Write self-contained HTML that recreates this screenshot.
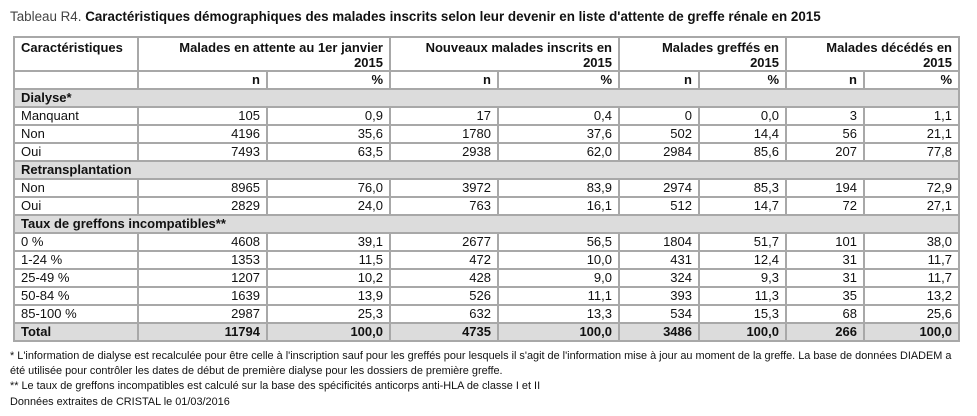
<!DOCTYPE html>
<html><head><meta charset="utf-8"><style>
body{margin:0;background:#fff;width:977px;height:416px;position:relative;font-family:"Liberation Sans",Arial,sans-serif;color:#111;overflow:hidden}
.title{position:absolute;left:10px;top:9px;font-size:13.4px;font-weight:bold;white-space:nowrap}
.title span{font-weight:normal;color:#444}
table{position:absolute;left:13px;top:36px;border-collapse:collapse;table-layout:fixed;font-size:13px}
td{border:2px solid #a8a8a8;padding:0 6px;height:16px;line-height:16px;text-align:right;white-space:nowrap;overflow:hidden}
td.l{text-align:left}
tr.h1 td{height:30px;vertical-align:top;font-weight:bold;padding-top:2px;line-height:15px}
tr.h2 td{font-weight:bold}
tr.g td{background:#dcdcdc;font-weight:bold;text-align:left}
tr.t td{background:#dcdcdc;font-weight:bold}
.fn{position:absolute;left:10px;font-size:10.9px;white-space:nowrap;color:#111}
</style></head><body>
<div class="title"><span>Tableau R4.</span> Caractéristiques démographiques des malades inscrits selon leur devenir en liste d'attente de greffe rénale en 2015</div>
<table>
<colgroup><col style="width:124px"><col style="width:129px"><col style="width:123px"><col style="width:108px"><col style="width:121px"><col style="width:80px"><col style="width:87px"><col style="width:78px"><col style="width:95px"></colgroup>
<tr class="h1"><td class="l">Caractéristiques</td><td colspan="2">Malades en attente au 1er janvier<br>2015</td><td colspan="2">Nouveaux malades inscrits en<br>2015</td><td colspan="2">Malades greffés en<br>2015</td><td colspan="2">Malades décédés en<br>2015</td></tr>
<tr class="h2"><td></td><td>n</td><td>%</td><td>n</td><td>%</td><td>n</td><td>%</td><td>n</td><td>%</td></tr>
<tr class="g"><td colspan="9">Dialyse*</td></tr>
<tr><td class="l">Manquant</td><td>105</td><td>0,9</td><td>17</td><td>0,4</td><td>0</td><td>0,0</td><td>3</td><td>1,1</td></tr>
<tr><td class="l">Non</td><td>4196</td><td>35,6</td><td>1780</td><td>37,6</td><td>502</td><td>14,4</td><td>56</td><td>21,1</td></tr>
<tr><td class="l">Oui</td><td>7493</td><td>63,5</td><td>2938</td><td>62,0</td><td>2984</td><td>85,6</td><td>207</td><td>77,8</td></tr>
<tr class="g"><td colspan="9">Retransplantation</td></tr>
<tr><td class="l">Non</td><td>8965</td><td>76,0</td><td>3972</td><td>83,9</td><td>2974</td><td>85,3</td><td>194</td><td>72,9</td></tr>
<tr><td class="l">Oui</td><td>2829</td><td>24,0</td><td>763</td><td>16,1</td><td>512</td><td>14,7</td><td>72</td><td>27,1</td></tr>
<tr class="g"><td colspan="9">Taux de greffons incompatibles**</td></tr>
<tr><td class="l">0 %</td><td>4608</td><td>39,1</td><td>2677</td><td>56,5</td><td>1804</td><td>51,7</td><td>101</td><td>38,0</td></tr>
<tr><td class="l">1-24 %</td><td>1353</td><td>11,5</td><td>472</td><td>10,0</td><td>431</td><td>12,4</td><td>31</td><td>11,7</td></tr>
<tr><td class="l">25-49 %</td><td>1207</td><td>10,2</td><td>428</td><td>9,0</td><td>324</td><td>9,3</td><td>31</td><td>11,7</td></tr>
<tr><td class="l">50-84 %</td><td>1639</td><td>13,9</td><td>526</td><td>11,1</td><td>393</td><td>11,3</td><td>35</td><td>13,2</td></tr>
<tr><td class="l">85-100 %</td><td>2987</td><td>25,3</td><td>632</td><td>13,3</td><td>534</td><td>15,3</td><td>68</td><td>25,6</td></tr>
<tr class="t"><td class="l">Total</td><td>11794</td><td>100,0</td><td>4735</td><td>100,0</td><td>3486</td><td>100,0</td><td>266</td><td>100,0</td></tr>
</table>
<div class="fn" style="top:350px">* L'information de dialyse est recalculée pour être celle à l'inscription sauf pour les greffés pour lesquels il s'agit de l'information mise à jour au moment de la greffe. La base de données DIADEM a</div>
<div class="fn" style="top:365px">été utilisée pour contrôler les dates de début de première dialyse pour les dossiers de première greffe.</div>
<div class="fn" style="top:380px">** Le taux de greffons incompatibles est calculé sur la base des spécificités anticorps anti-HLA de classe I et II</div>
<div class="fn" style="top:396px">Données extraites de CRISTAL le 01/03/2016</div>
</body></html>
